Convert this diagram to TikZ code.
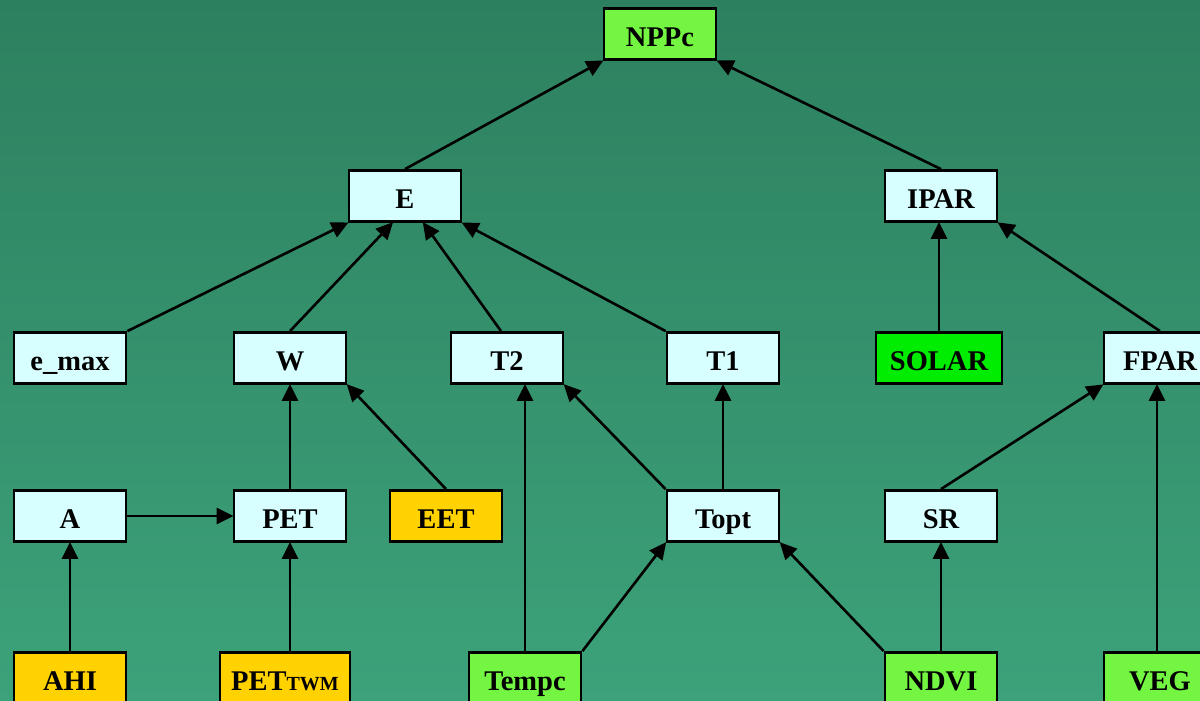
\documentclass[tikz,border=0pt]{standalone}
\usepackage{fontspec}
\setmainfont{Liberation Serif}
\usetikzlibrary{arrows.meta,calc}
\definecolor{bgtop}{RGB}{45,128,95}
\definecolor{bgbot}{RGB}{60,162,122}
\definecolor{boxcyan}{RGB}{215,255,255}
\definecolor{boxyellow}{RGB}{255,210,0}
\definecolor{boxlime}{RGB}{115,245,65}
\definecolor{boxgreen}{RGB}{0,236,0}
\tikzset{
  box/.style={draw=black, line width=2.8pt, minimum width=112pt, minimum height=51pt,
    inner sep=0pt, text height=25pt, text depth=0pt,
    font=\fontsize{28.5}{28.5}\selectfont\bfseries, text=black},
  cyanbox/.style={box, fill=boxcyan},
  yellowbox/.style={box, fill=boxyellow},
  limebox/.style={box, fill=boxlime},
  greenbox/.style={box, fill=boxgreen},
  conn/.style={draw=black, line width=2.6pt, -{Triangle[length=17pt,width=16pt]}, shorten >=-1pt},
}
\begin{document}
\begin{tikzpicture}[x=1pt,y=-1pt]
\useasboundingbox (0,0) rectangle (1200,701);
\shade[top color=bgtop, bottom color=bgbot] (0,0) rectangle (1200,701);
\clip (0,0) rectangle (1200,701);
% nodes
\node[limebox] (NPPc) at (660,34) {NPPc};
\node[cyanbox] (E) at (405,196) {E};
\node[cyanbox] (IPAR) at (941,196) {IPAR};
\node[cyanbox] (emax) at (70,358) {e\_max};
\node[cyanbox] (W) at (290,358) {W};
\node[cyanbox] (T2) at (507,358) {T2};
\node[cyanbox] (T1) at (723,358) {T1};
\node[greenbox, minimum width=126pt] (SOLAR) at (939,358) {SOLAR};
\node[cyanbox] (FPAR) at (1160,358) {FPAR};
\node[cyanbox] (A) at (70,516) {A};
\node[cyanbox] (PET) at (290,516) {PET};
\node[yellowbox] (EET) at (446,516) {EET};
\node[cyanbox] (Topt) at (723,516) {Topt};
\node[cyanbox] (SR) at (941,516) {SR};
\node[yellowbox] (AHI) at (70,678) {AHI};
\node[yellowbox, minimum width=130pt] (PETTWM) at (285,678) {PET{\fontsize{20}{20}\selectfont TWM}};
\node[limebox] (Tempc) at (525,678) {Tempc};
\node[limebox] (NDVI) at (941,678) {NDVI};
\node[limebox] (VEG) at (1160,678) {VEG};
% connectors
\draw[conn] (E.north) -- (NPPc.south west);
\draw[conn] (IPAR.north) -- (NPPc.south east);
\draw[conn] (emax.north east) -- (E.south west);
\draw[conn] (W.north) -- ($(E.south west)!0.39!(E.south east)$);
\draw[conn] ($(T2.north)+(-6,0)$) -- ($(E.south west)!0.66!(E.south east)$);
\draw[conn] (T1.north west) -- (E.south east);
\draw[conn] (SOLAR.north) -- (SOLAR.north |- IPAR.south);
\draw[conn] (FPAR.north) -- (IPAR.south east);
\draw[conn] (PET.north) -- (W.south);
\draw[conn] (EET.north) -- (W.south east);
\draw[conn] (Tempc.north) -- (Tempc.north |- T2.south);
\draw[conn] (Topt.north west) -- (T2.south east);
\draw[conn] (Topt.north) -- (T1.south);
\draw[conn] (SR.north) -- (FPAR.south west);
\draw[conn] ($(VEG.north)+(-3,0)$) -- ($(FPAR.south)+(-3,0)$);
\draw[conn] (A.east) -- (PET.west);
\draw[conn] (AHI.north) -- (A.south);
\draw[conn] (PETTWM.north -| PET.south) -- (PET.south);
\draw[conn] (Tempc.north east) -- (Topt.south west);
\draw[conn] (NDVI.north west) -- (Topt.south east);
\draw[conn] (NDVI.north) -- (SR.south);
\end{tikzpicture}
\end{document}
